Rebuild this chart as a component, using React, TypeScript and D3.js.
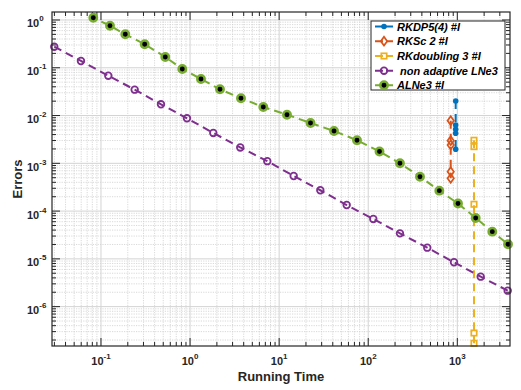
import React from 'react';
import * as d3 from 'd3';

// ---- data ----
const alneTime = [0.0581, 0.082, 0.1262, 0.1875, 0.3094, 0.527, 0.818, 1.326, 2.167, 3.73, 6.64, 12.25, 22.5, 41.3, 74.8, 133.8, 227, 381, 628, 1018, 1608, 2470, 3707];
const alneErr = [1.87, 1.117, 0.76, 0.502, 0.31, 0.168, 0.0943, 0.0582, 0.0355, 0.023, 0.0151, 0.01042, 0.00699, 0.00475, 0.00304, 0.00177, 0.001002, 0.000525, 0.000268, 0.000144, 7.18e-5, 3.71e-5, 2.02e-5];

const lneTime = [0.0299, 0.0596, 0.1208, 0.239, 0.4716, 0.923, 1.823, 3.66, 7.36, 14.56, 28.97, 57.3, 114, 227, 460, 918, 1830, 3678];
const lneErr = [0.276, 0.1387, 0.0683, 0.0348, 0.0172, 0.00876, 0.00432, 0.00215, 0.001109, 0.000543, 0.000273, 0.000134, 6.84e-5, 3.42e-5, 1.716e-5, 8.49e-6, 4.24e-6, 2.16e-6];

const dpTime = [959, 958, 959, 958, 959];
const dpErr = [0.0202, 0.00634, 0.00516, 0.00425, 0.00197];

const scTime = [843, 843, 843, 843, 843];
const scErr = [0.00781, 0.00298, 0.00242, 0.000668, 0.000486];

const dblTime = [1539, 1539, 1539, 1539, 1539];
const dblErr = [0.00304, 0.00223, 0.000139, 2.81e-7, 1.71e-7];

const xTickExps = [-1, 0, 1, 2, 3];
const yTickExps = [0, -1, -2, -3, -4, -5, -6];

const legendLabels = ['RKDP5(4) #I', 'RKSc 2 #I', 'RKdoubling 3 #I', ' non adaptive LNe3', 'ALNe3 #I'];

const BLUE = '#0072BD', ORANGE = '#D95319', YELLOW = '#EDB120', PURPLE = '#7E2F8E', GREEN = '#77AC30';
const AX = '#262626';

type Kind = 'dot' | 'diamond' | 'square' | 'ring' | 'green';

function Marker({ kind, cx, cy, color }: { kind: Kind; cx: number; cy: number; color: string }) {
  if (kind === 'dot') return <circle cx={cx} cy={cy} r={2.8} fill={color} />;
  if (kind === 'ring') return <circle cx={cx} cy={cy} r={3.3} fill="none" stroke={color} strokeWidth={1.8} />;
  if (kind === 'green') return <circle cx={cx} cy={cy} r={3.7} fill="#000" stroke={color} strokeWidth={2.5} />;
  if (kind === 'square') return <rect x={cx - 2.7} y={cy - 2.7} width={5.4} height={5.4} fill="none" stroke={color} strokeWidth={1.7} />;
  const w = 3.2, h = 4.4;
  return <path d={`M${cx},${cy - h}L${cx + w},${cy}L${cx},${cy + h}L${cx - w},${cy}Z`} fill="none" stroke={color} strokeWidth={1.7} />;
}

export default function App() {
  const W = 521, H = 390;
  const L = 52, R = 510, T = 12, B = 346;
  const x = d3.scaleLog().domain([0.0282, 3903]).range([L, R]);
  const y = d3.scaleLog().domain([1.5e-7, 1.47]).range([B, T]);
  const [x0, x1] = x.domain();
  const [y0, y1] = y.domain();

  const xMinor: number[] = [];
  for (let e = -2; e <= 3; e++) for (let k = 2; k <= 9; k++) { const v = k * Math.pow(10, e); if (v > x0 && v < x1) xMinor.push(v); }
  const yMinor: number[] = [];
  for (let e = -7; e <= 0; e++) for (let k = 2; k <= 9; k++) { const v = k * Math.pow(10, e); if (v > y0 && v < y1) yMinor.push(v); }

  const series = [
    { t: dpTime, e: dpErr, color: BLUE, kind: 'dot' as Kind },
    { t: scTime, e: scErr, color: ORANGE, kind: 'diamond' as Kind },
    { t: dblTime, e: dblErr, color: YELLOW, kind: 'square' as Kind },
    { t: lneTime, e: lneErr, color: PURPLE, kind: 'ring' as Kind },
    { t: alneTime, e: alneErr, color: GREEN, kind: 'green' as Kind },
  ];

  const line = d3.line<[number, number]>().x(d => x(d[0])).y(d => y(d[1]));
  const inside = (t: number, e: number) => t >= x0 && t <= x1 && e >= y0 && e <= y1;

  const font = 'Arial, "Liberation Sans", Helvetica, sans-serif';
  const legX = 371, legY = 21, legW = 134, legH = 69;
  const rowY = [26.5, 41.2, 56, 70.7, 85.2];

  return (
    <svg width={W} height={H} style={{ position: 'absolute', left: 0, top: 0, background: '#fff' }} fontFamily={font}>
      <defs>
        <clipPath id="plotclip"><rect x={L} y={T} width={R - L} height={B - T} /></clipPath>
      </defs>
      <rect x={0} y={0} width={W} height={H} fill="#fff" />
      {/* minor grid */}
      <g stroke="#cfcfcf" strokeWidth={0.8} strokeDasharray="1.2,1.2">
        {xMinor.map((v, i) => <line key={'xm' + i} x1={x(v)} x2={x(v)} y1={T} y2={B} />)}
        {yMinor.map((v, i) => <line key={'ym' + i} x1={L} x2={R} y1={y(v)} y2={y(v)} />)}
      </g>
      {/* major grid */}
      <g stroke="#d3d3d3" strokeWidth={1}>
        {xTickExps.map(e => <line key={'xg' + e} x1={x(Math.pow(10, e))} x2={x(Math.pow(10, e))} y1={T} y2={B} />)}
        {yTickExps.map(e => <line key={'yg' + e} x1={L} x2={R} y1={y(Math.pow(10, e))} y2={y(Math.pow(10, e))} />)}
      </g>
      {/* ticks */}
      <g stroke={AX} strokeWidth={1}>
        {xMinor.map((v, i) => (
          <g key={'xt' + i}>
            <line x1={x(v)} x2={x(v)} y1={B} y2={B - 4} />
            <line x1={x(v)} x2={x(v)} y1={T} y2={T + 4} />
          </g>
        ))}
        {xTickExps.map(e => (
          <g key={'xT' + e}>
            <line x1={x(Math.pow(10, e))} x2={x(Math.pow(10, e))} y1={B} y2={B - 8} />
            <line x1={x(Math.pow(10, e))} x2={x(Math.pow(10, e))} y1={T} y2={T + 8} />
          </g>
        ))}
        {yMinor.map((v, i) => (
          <g key={'yt' + i}>
            <line x1={L} x2={L + 4} y1={y(v)} y2={y(v)} />
            <line x1={R} x2={R - 4} y1={y(v)} y2={y(v)} />
          </g>
        ))}
        {yTickExps.map(e => (
          <g key={'yT' + e}>
            <line x1={L} x2={L + 8} y1={y(Math.pow(10, e))} y2={y(Math.pow(10, e))} />
            <line x1={R} x2={R - 8} y1={y(Math.pow(10, e))} y2={y(Math.pow(10, e))} />
          </g>
        ))}
      </g>
      {/* data lines */}
      <g clipPath="url(#plotclip)" fill="none" strokeWidth={2} strokeDasharray="8,5">
        {series.map((s, i) => (
          <path key={'l' + i} d={line(s.t.map((t, j) => [t, s.e[j]] as [number, number])) || ''} stroke={s.color} />
        ))}
      </g>
      {/* markers */}
      <g>
        {series.map((s, i) => s.t.map((t, j) => inside(t, s.e[j]) ? (
          <Marker key={'m' + i + '_' + j} kind={s.kind} cx={x(t)} cy={y(s.e[j])} color={s.color} />
        ) : null))}
      </g>
      {/* axes box */}
      <rect x={L} y={T} width={R - L} height={B - T} fill="none" stroke={AX} strokeWidth={1.2} />
      {/* tick labels */}
      <g fill={AX} fontSize={11} fontWeight="bold">
        {xTickExps.map(e => (
          <text key={'xl' + e} x={x(Math.pow(10, e))} y={365} textAnchor="middle">
            10<tspan fontSize={8} dy={-6}>{e < 0 ? '-' + Math.abs(e) : String(e)}</tspan>
          </text>
        ))}
        {yTickExps.map(e => (
          <text key={'yl' + e} x={27} y={y(Math.pow(10, e)) + 7.5} textAnchor="start">
            10<tspan fontSize={8} dy={-6}>{e < 0 ? '-' + Math.abs(e) : String(e)}</tspan>
          </text>
        ))}
      </g>
      {/* axis labels */}
      <text x={(L + R) / 2} y={381} textAnchor="middle" fontSize={13} fontWeight="bold" fill={AX}>Running Time</text>
      <text transform={`translate(22,${(T + B) / 2}) rotate(-90)`} textAnchor="middle" fontSize={13} fontWeight="bold" fill={AX}>Errors</text>
      {/* legend */}
      <rect x={legX} y={legY} width={legW} height={legH} fill="#fff" stroke={AX} strokeWidth={1} />
      {series.map((s, i) => (
        <g key={'lg' + i}>
          <line x1={375} x2={393} y1={rowY[i]} y2={rowY[i]} stroke={s.color} strokeWidth={2} strokeDasharray="8,3,7" />
          <Marker kind={s.kind} cx={384} cy={rowY[i]} color={s.color} />
          <text x={397} y={rowY[i] + 4} fontSize={11} fontWeight="bold" fontStyle="italic" fill="#000" xmlSpace="preserve" style={{ whiteSpace: 'pre' }}>{legendLabels[i]}</text>
        </g>
      ))}
    </svg>
  );
}
